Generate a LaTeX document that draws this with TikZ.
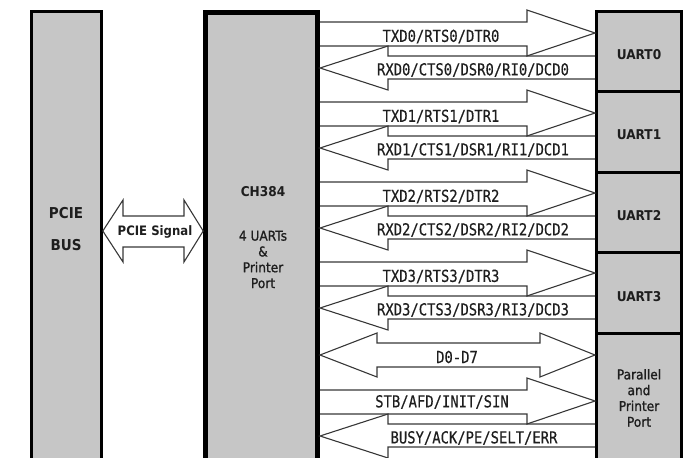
\documentclass[tikz,border=0pt]{standalone}
\usepackage{fontspec}
\newfontfamily\sigfont[FakeStretch=0.84,FakeBold=0.4]{DejaVu Sans Mono}
\newfontfamily\boxfont[FakeStretch=0.9]{DejaVu Sans}
\newfontfamily\medfont[FakeStretch=0.9,FakeBold=1.2]{DejaVu Sans}
\definecolor{boxgray}{RGB}{198,198,198}
\definecolor{linegray}{RGB}{55,55,55}
\definecolor{txtcol}{RGB}{30,30,30}
\tikzset{
  blockbox/.style={draw=black, fill=boxgray, line width=2.6pt, inner sep=0pt},
  chipbox/.style={draw=black, fill=boxgray, line width=4.6pt, inner sep=0pt},
  portbox/.style={draw=black, fill=boxgray, line width=2.8pt, inner sep=0pt},
  sigarrow/.style={draw=linegray, line width=1.1pt, line join=miter},
  siglabel/.style={inner sep=0pt, text=txtcol, font=\sigfont\fontsize{16.5}{18}\selectfont},
  boldlabel/.style={inner sep=0pt, text=txtcol, font=\boxfont\bfseries\fontsize{13.5}{16}\selectfont},
  plainlabel/.style={inner sep=0pt, text=txtcol, align=center, font=\medfont\fontsize{13.5}{15.8}\selectfont},
}
\newcommand\txarrow[1]{%
  \draw[sigarrow] (320,#1+12) -- (527,#1+12) -- (527,#1) -- (595,#1+23)
     -- (527,#1+46) -- (527,#1+36) -- (320,#1+36);}
\newcommand\rxarrow[1]{%
  \draw[sigarrow] (595,#1+46) -- (388,#1+46) -- (388,#1+36) -- (320,#1+58)
     -- (388,#1+80) -- (388,#1+69) -- (595,#1+69);}
\begin{document}
\begin{tikzpicture}[x=1pt, y=-1pt]
\useasboundingbox (0,0) rectangle (686,458);
\clip (0,0) rectangle (686,458);
% boxes
\node[blockbox, minimum width=70, minimum height=470] (bus) at (66.5,246.3) {};
\node[chipbox, minimum width=112, minimum height=470] (chip) at (261.5,247.3) {};
\node[portbox, minimum width=85, minimum height=80.5] (u0) at (639,51.4) {};
\node[portbox, minimum width=85, minimum height=80.5] (u1) at (639,131.9) {};
\node[portbox, minimum width=85, minimum height=80.5] (u2) at (639,212.4) {};
\node[portbox, minimum width=85, minimum height=80.5] (u3) at (639,292.9) {};
\node[portbox, minimum width=85, minimum height=140] (pp) at (639,403.2) {};
% box texts
\node[boldlabel, font=\boxfont\bfseries\fontsize{15}{17}\selectfont] (tpcie) at (66,213) {PCIE};
\node[boldlabel, font=\boxfont\bfseries\fontsize{15}{17}\selectfont] (tbus) at (66,245) {BUS};
\node[boldlabel] (tch) at (263,192) {CH384};
\node[plainlabel] (tch2) at (263,259.5) {4 UARTs\\\&\\Printer\\Port};
\node[boldlabel] (tu0) at (639,55) {UART0};
\node[boldlabel] (tu1) at (639,135) {UART1};
\node[boldlabel] (tu2) at (639,216) {UART2};
\node[boldlabel] (tu3) at (639,297) {UART3};
\node[plainlabel] (tpp) at (639,398) {Parallel\\and\\Printer\\Port};
% PCIE signal
\draw[sigarrow] (123,216) -- (184,216) -- (184,200) -- (chip.west |- 0,231)
  -- (184,262) -- (184,247) -- (123,247) -- (123,262) -- (bus.east |- 0,231) -- (123,200) -- cycle;
\node[boldlabel, font=\boxfont\bfseries\fontsize{13}{15}\selectfont] (tsig) at (155,232) {PCIE Signal};
% UART channels
\foreach \y in {10,90,170,250}{\txarrow{\y}\rxarrow{\y}}
\node[siglabel] (l0t) at (441,36.5) {TXD0/RTS0/DTR0};
\node[siglabel] (l0r) at (473,70) {RXD0/CTS0/DSR0/RI0/DCD0};
\node[siglabel] (l1t) at (441,116.5) {TXD1/RTS1/DTR1};
\node[siglabel] (l1r) at (473,150) {RXD1/CTS1/DSR1/RI1/DCD1};
\node[siglabel] (l2t) at (441,196.5) {TXD2/RTS2/DTR2};
\node[siglabel] (l2r) at (473,230) {RXD2/CTS2/DSR2/RI2/DCD2};
\node[siglabel] (l3t) at (441,276.5) {TXD3/RTS3/DTR3};
\node[siglabel] (l3r) at (473,310) {RXD3/CTS3/DSR3/RI3/DCD3};
% parallel port
\draw[sigarrow] (377,343) -- (540,343) -- (540,333) -- (595,355) -- (540,377)
  -- (540,367) -- (377,367) -- (377,377) -- (320,355) -- (377,333) -- cycle;
\node[siglabel] (ld) at (457,357) {D0-D7};
\txarrow{378}
\rxarrow{378}
\node[siglabel] (lstb) at (442,402) {STB/AFD/INIT/SIN};
\node[siglabel] (lbusy) at (474,438) {BUSY/ACK/PE/SELT/ERR};
\end{tikzpicture}
\end{document}
